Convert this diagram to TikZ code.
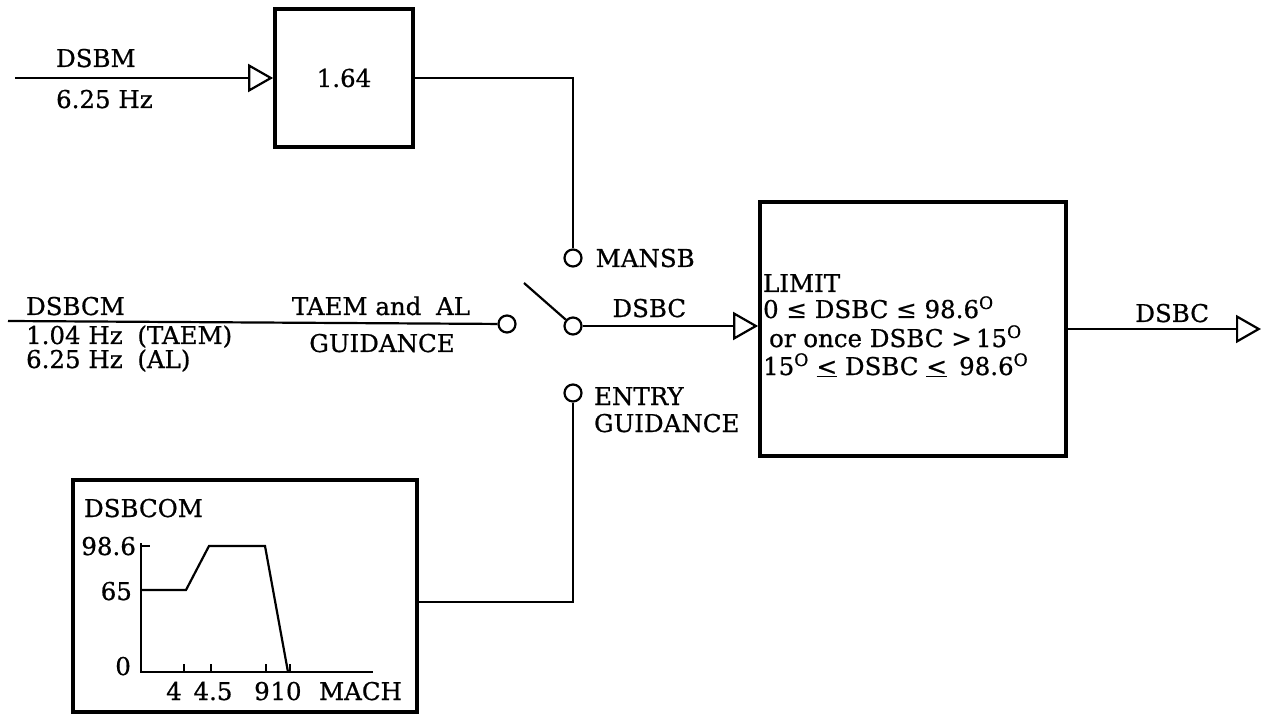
\documentclass[tikz,border=0pt]{standalone}
\usepackage{fontspec}
\newfontfamily\diagfont{DejaVu Serif}[FakeBold=0.7]
\usetikzlibrary{arrows.meta,positioning}
\begin{document}
\begin{tikzpicture}[x=1pt, y=-1pt, line width=2.2pt,
    every node/.style={font=\diagfont\fontsize{24.5}{27}\selectfont, inner sep=0pt},
    blk/.style={draw, line width=3.8pt},
    term/.style={draw, circle, minimum size=17pt, line width=2.2pt},
    sig/.style={-{Triangle[open, length=25pt, width=28pt, line width=2.2pt]}},
    lbl/.style={anchor=base west}]
  \useasboundingbox (0,0) rectangle (1262,714);

  % gain block on the manual input
  \node[blk, minimum width=138pt, minimum height=138pt] (gain) at (344,78) {1.64};
  \coordinate (dsbmin) at (15,78);
  \draw[sig] (dsbmin) -- (gain.west);
  \node[lbl] at (55,67) {DSBM};
  \node[lbl] at (55,108) {6.25 Hz};

  % switch terminals
  \node[term] (mansb) at (573,258) {};
  \node[term] (pivot) at (573,326) {};
  \node[term] (entry) at (573,393) {};
  \node[term] (taem) at (507,324) {};
  \node[right=12pt of mansb] {MANSB};
  \node[lbl] at (593,405) {ENTRY};
  \node[lbl] at (593,432) {GUIDANCE};
  \coordinate (blade) at (524,283);
  \draw (pivot) -- (blade);
  \draw (gain.east) -| (mansb);

  % TAEM and AL input
  \coordinate (dsbcmin) at (8,321);
  \draw (dsbcmin) -- (taem);
  \node[lbl] at (25,315) {DSBCM};
  \node[lbl] at (25,344) {1.04 Hz\hspace{0.6em}(TAEM)};
  \node[lbl] at (25,368) {6.25 Hz\hspace{0.6em}(AL)};
  \node[anchor=base] at (381,315) {TAEM and\hspace{0.6em}AL};
  \node[anchor=base] at (382,352) {GUIDANCE};

  % limiter
  \node[blk, minimum width=306pt, minimum height=254pt] (limit) at (913,329) {};
  \draw[sig] (pivot) -- node[pos=0.38, anchor=base, yshift=9pt] {DSBC} (pivot -| limit.west);
  \node[lbl] at (762,292) {LIMIT};
  \node[lbl] at (762,318) {0 ≤ DSBC ≤ 98.6\textsuperscript{O}};
  \node[lbl] at (768,347) {or once DSBC >\,15\textsuperscript{O}};
  \node[lbl] at (762,375) {15\textsuperscript{O} \underline{<} DSBC \underline{<}\hspace{0.5em}98.6\textsuperscript{O}};
  \coordinate (dsbcout) at (1261,329);
  \draw[sig] (limit.east) -- node[pos=0.54, anchor=base, yshift=7pt] {DSBC} (dsbcout);

  % entry schedule versus Mach
  \node[blk, minimum width=344pt, minimum height=232pt] (sched) at (245,596) {};
  \draw (entry) |- ([yshift=-6pt]sched.east);
  \node[lbl] at (83,517) {DSBCOM};
  \draw (141,543) -- (141,672) -- (373,672);
  \draw (141,546) -- (150,546);
  \foreach \m in {184,211,266,290} \draw (\m,672) -- (\m,664);
  \draw (141,590) -- (186,590) -- (209,546) -- (265,546) -- (288,672);
  \node[anchor=base east] at (137,555) {98.6};
  \node[anchor=base east] at (133,600) {65};
  \node[anchor=base east] at (132,675) {0};
  \node[anchor=base] at (174,700) {4};
  \node[anchor=base] at (213,700) {4.5};
  \node[anchor=base] at (262,700) {9};
  \node[anchor=base] at (286,700) {10};
  \node[lbl] at (318,700) {MACH};
\end{tikzpicture}
\end{document}
